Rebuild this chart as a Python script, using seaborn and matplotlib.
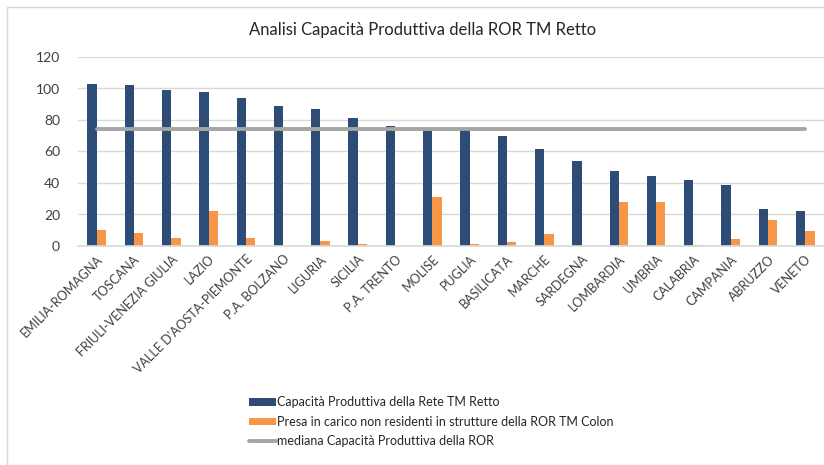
import numpy as np
import pandas as pd
import matplotlib
matplotlib.use("Agg")
import matplotlib.pyplot as plt
import seaborn as sns
from matplotlib.patches import Patch, Rectangle
from matplotlib.lines import Line2D

regions = ["EMILIA-ROMAGNA", "TOSCANA", "FRIULI-VENEZIA GIULIA", "LAZIO",
           "VALLE D'AOSTA-PIEMONTE", "P.A. BOLZANO", "LIGURIA", "SICILIA",
           "P.A. TRENTO", "MOLISE", "PUGLIA", "BASILICATA", "MARCHE", "SARDEGNA",
           "LOMBARDIA", "UMBRIA", "CALABRIA", "CAMPANIA", "ABRUZZO", "VENETO"]
capacita = [102.8, 102.1, 98.9, 97.5, 94.1, 89.0, 87.3, 81.1, 76.1, 74.5,
            74.3, 70.1, 61.9, 54.2, 47.9, 44.3, 41.7, 38.6, 23.5, 22.2]
presa = [10.2, 8.3, 5.1, 22.2, 5.1, 0.0, 3.2, 1.5, 0.0, 30.9,
         1.3, 2.5, 7.8, 0.0, 28.2, 28.2, 0.8, 4.2, 16.3, 9.5]
mediana = [74.6] * len(regions)

s1 = "Capacità Produttiva della Rete TM Retto"
s2 = "Presa in carico non residenti in strutture della ROR TM Colon"
s3 = "mediana Capacità Produttiva della ROR"
yticks = [0, 20, 40, 60, 80, 100, 120]

df = pd.DataFrame({
    "Regione": regions * 2,
    "Valore": capacita + presa,
    "Serie": [s1] * len(regions) + [s2] * len(regions),
})

sns.set_theme(style="white")
plt.rcParams['font.family'] = ['Lato', 'DejaVu Sans']

BLUE = "#2E4D76"
ORANGE = "#F79646"
GRAY = "#A5A5A5"

fig = plt.figure(figsize=(8.24, 4.65), dpi=100)
ax = fig.add_axes([78/824, 1 - 246/465, (824-78)/824, (246-57)/465])

sns.barplot(data=df, x="Regione", y="Valore", hue="Serie", order=regions,
            hue_order=[s1, s2], palette=[BLUE, ORANGE], width=0.5,
            saturation=1, ax=ax, legend=False, edgecolor="none")
ax.plot(np.arange(len(regions)), mediana, color=GRAY, lw=2.8, zorder=3)

ax.set_xlim(-0.5, len(regions) - 0.5)
ax.set_ylim(0, 120)
ax.set_yticks(yticks)
ax.set_yticklabels([str(t) for t in yticks], fontsize=10, color="#404040")
ax.yaxis.grid(True, color="#D9D9D9", lw=1)
ax.set_axisbelow(True)
for sp in ["top", "right", "left"]:
    ax.spines[sp].set_visible(False)
ax.spines["bottom"].set_color("#D9D9D9")
ax.tick_params(axis="y", length=0, pad=13)
ax.tick_params(axis="x", length=0, pad=5)
ax.set_xlabel("")
ax.set_ylabel("")
ax.set_xticks(np.arange(len(regions)))
ax.set_xticklabels(regions, rotation=45, ha="right", rotation_mode="anchor",
                   fontsize=9, color="#404040")

fig.text(423/824, 1 - 30/465, "Analisi Capacità Produttiva della ROR TM Retto",
         ha="center", va="center", fontsize=12, color="#262626")

handles = [Patch(facecolor=BLUE, edgecolor="none"),
           Patch(facecolor=ORANGE, edgecolor="none"),
           Line2D([0], [0], color=GRAY, lw=2.8)]
fig.legend(handles, [s1, s2, s3], loc="upper left",
           bbox_to_anchor=(243/824, 1 - 390/465), frameon=False,
           fontsize=9, handlelength=2.1, handleheight=0.55,
           handletextpad=0.15, labelspacing=0.6, borderpad=0,
           labelcolor="#262626")

fig.patches.append(Rectangle((7/824, 0), 1, 1 - 7/465, transform=fig.transFigure,
                             fill=False, edgecolor="#D9D9D9", lw=1))

fig.savefig("out.png", dpi=100)
